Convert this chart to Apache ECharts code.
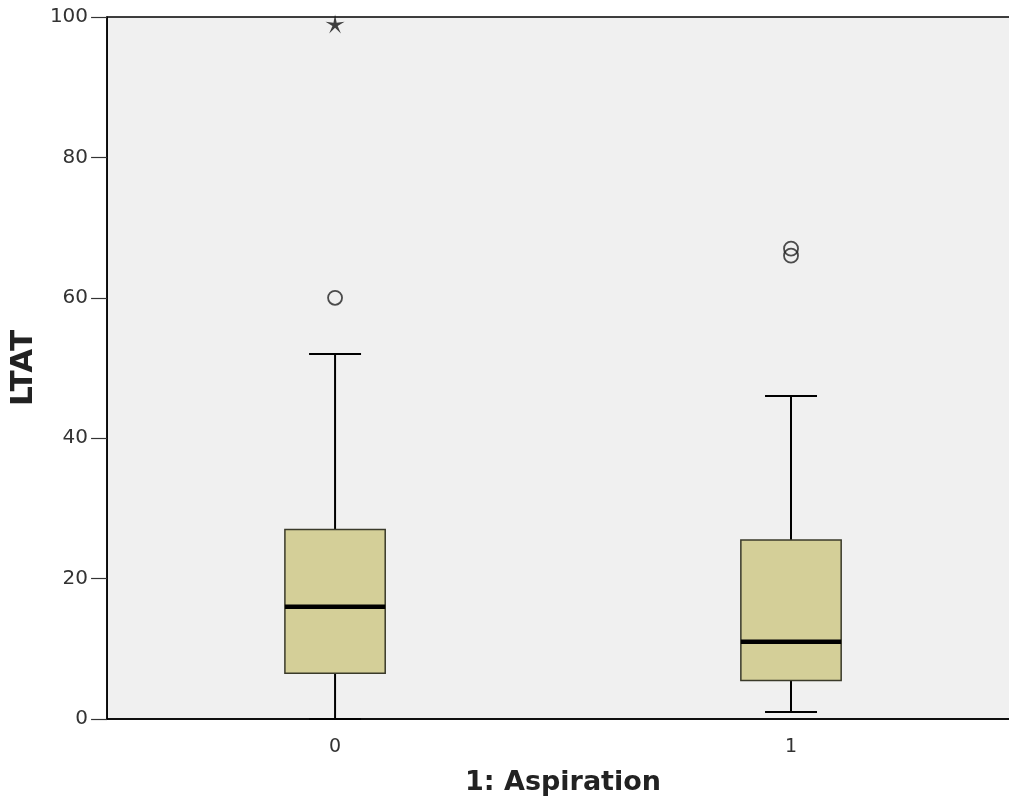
<!DOCTYPE html>
<html>
<head>
<meta charset="utf-8">
<script src="https://cdn.jsdelivr.net/npm/echarts@6/dist/echarts.min.js"></script>
<style>
html,body{margin:0;padding:0;background:#fff;overflow:hidden;}
#chart{width:1030px;height:801px;}
</style>
</head>
<body>
<div id="chart"></div>
<script>
var categories = ['0', '1'];
var lowWhisker = [0, 1];
var q1 = [6.5, 5.5];
var median = [16, 11];
var q3 = [27, 25.5];
var highWhisker = [52, 46];
var outliers = [[0, 60], [1, 66], [1, 67]];
var extremes = [[0, 99]];
var yTicks = [0, 20, 40, 60, 80, 100];

var boxData = categories.map(function (c, i) {
  return [i, lowWhisker[i], q1[i], median[i], q3[i], highWhisker[i]];
});

var starPath = 'path://M10 0 L11.6 7.8 L19.51 6.91 L12.6 10.9 L15.88 18.09 L10 12.6 L4.12 18.09 L7.4 10.9 L0.49 6.91 L8.4 7.8 Z';

function renderBox(params, api) {
  var x = api.value(0);
  var band = api.size([1, 0])[0];
  var boxW = band * 0.22;
  var capW = band * 0.114;
  var pLow = api.coord([x, api.value(1)]);
  var pQ1 = api.coord([x, api.value(2)]);
  var pMed = api.coord([x, api.value(3)]);
  var pQ3 = api.coord([x, api.value(4)]);
  var pHigh = api.coord([x, api.value(5)]);
  var cx = pQ1[0];
  var lineStyle = {stroke: '#000', lineWidth: 2};
  return {
    type: 'group',
    children: [
      {type: 'line', shape: {x1: cx, y1: pHigh[1], x2: cx, y2: pQ3[1]}, style: lineStyle},
      {type: 'line', shape: {x1: cx, y1: pQ1[1], x2: cx, y2: pLow[1]}, style: lineStyle},
      {type: 'line', shape: {x1: cx - capW / 2, y1: pHigh[1], x2: cx + capW / 2, y2: pHigh[1]}, style: lineStyle},
      {type: 'line', shape: {x1: cx - capW / 2, y1: pLow[1], x2: cx + capW / 2, y2: pLow[1]}, style: lineStyle},
      {type: 'rect', shape: {x: cx - boxW / 2, y: pQ3[1], width: boxW, height: pQ1[1] - pQ3[1]},
        style: {fill: '#d4cf98', stroke: '#3a3a2a', lineWidth: 1.5}},
      {type: 'line', shape: {x1: cx - boxW / 2, y1: pMed[1], x2: cx + boxW / 2, y2: pMed[1]},
        style: {stroke: '#000', lineWidth: 4.5}}
    ]
  };
}

var chart = echarts.init(document.getElementById('chart'));
chart.setOption({
  animation: false,
  backgroundColor: '#fff',
  grid: {
    left: 107, top: 17, right: 11, bottom: 81,
    show: true, backgroundColor: '#f0f0f0', borderColor: '#000', borderWidth: 1.5
  },
  xAxis: {
    type: 'category',
    data: categories,
    name: '1: Aspiration',
    nameLocation: 'middle',
    nameGap: 50,
    nameTextStyle: {fontFamily: 'DejaVu Sans', fontWeight: 'bold', fontSize: 27, color: '#222'},
    axisLine: {lineStyle: {color: '#000', width: 1.5}},
    axisTick: {alignWithLabel: true, length: 14, lineStyle: {color: '#333', width: 1.5}},
    axisLabel: {fontFamily: 'DejaVu Sans', fontSize: 19, color: '#333', margin: 19},
    splitLine: {show: false}
  },
  yAxis: {
    type: 'value',
    min: 0, max: 100, interval: 20,
    name: 'LTAT',
    nameLocation: 'middle',
    nameGap: 68,
    nameTextStyle: {fontFamily: 'DejaVu Sans', fontWeight: 'bold', fontSize: 31, color: '#222'},
    axisLine: {show: true, lineStyle: {color: '#000', width: 1.5}},
    axisTick: {show: true, length: 16, lineStyle: {color: '#333', width: 1.2}},
    axisLabel: {fontFamily: 'DejaVu Sans', fontSize: 20, color: '#333', margin: 19,
      formatter: function (v) { return yTicks.indexOf(v) >= 0 ? String(v) : ''; }},
    splitLine: {show: false}
  },
  series: [
    {
      type: 'custom',
      renderItem: renderBox,
      data: boxData,
      encode: {x: 0, y: [1, 2, 3, 4, 5]},
      z: 2
    },
    {
      type: 'scatter',
      data: outliers,
      symbol: 'circle',
      symbolSize: 14,
      itemStyle: {color: 'rgba(0,0,0,0)', borderColor: '#222', borderWidth: 1.8},
      z: 3
    },
    {
      type: 'scatter',
      data: extremes,
      symbol: starPath,
      symbolSize: 19,
      itemStyle: {color: '#111'},
      z: 3
    }
  ]
});
</script>
</body>
</html>
